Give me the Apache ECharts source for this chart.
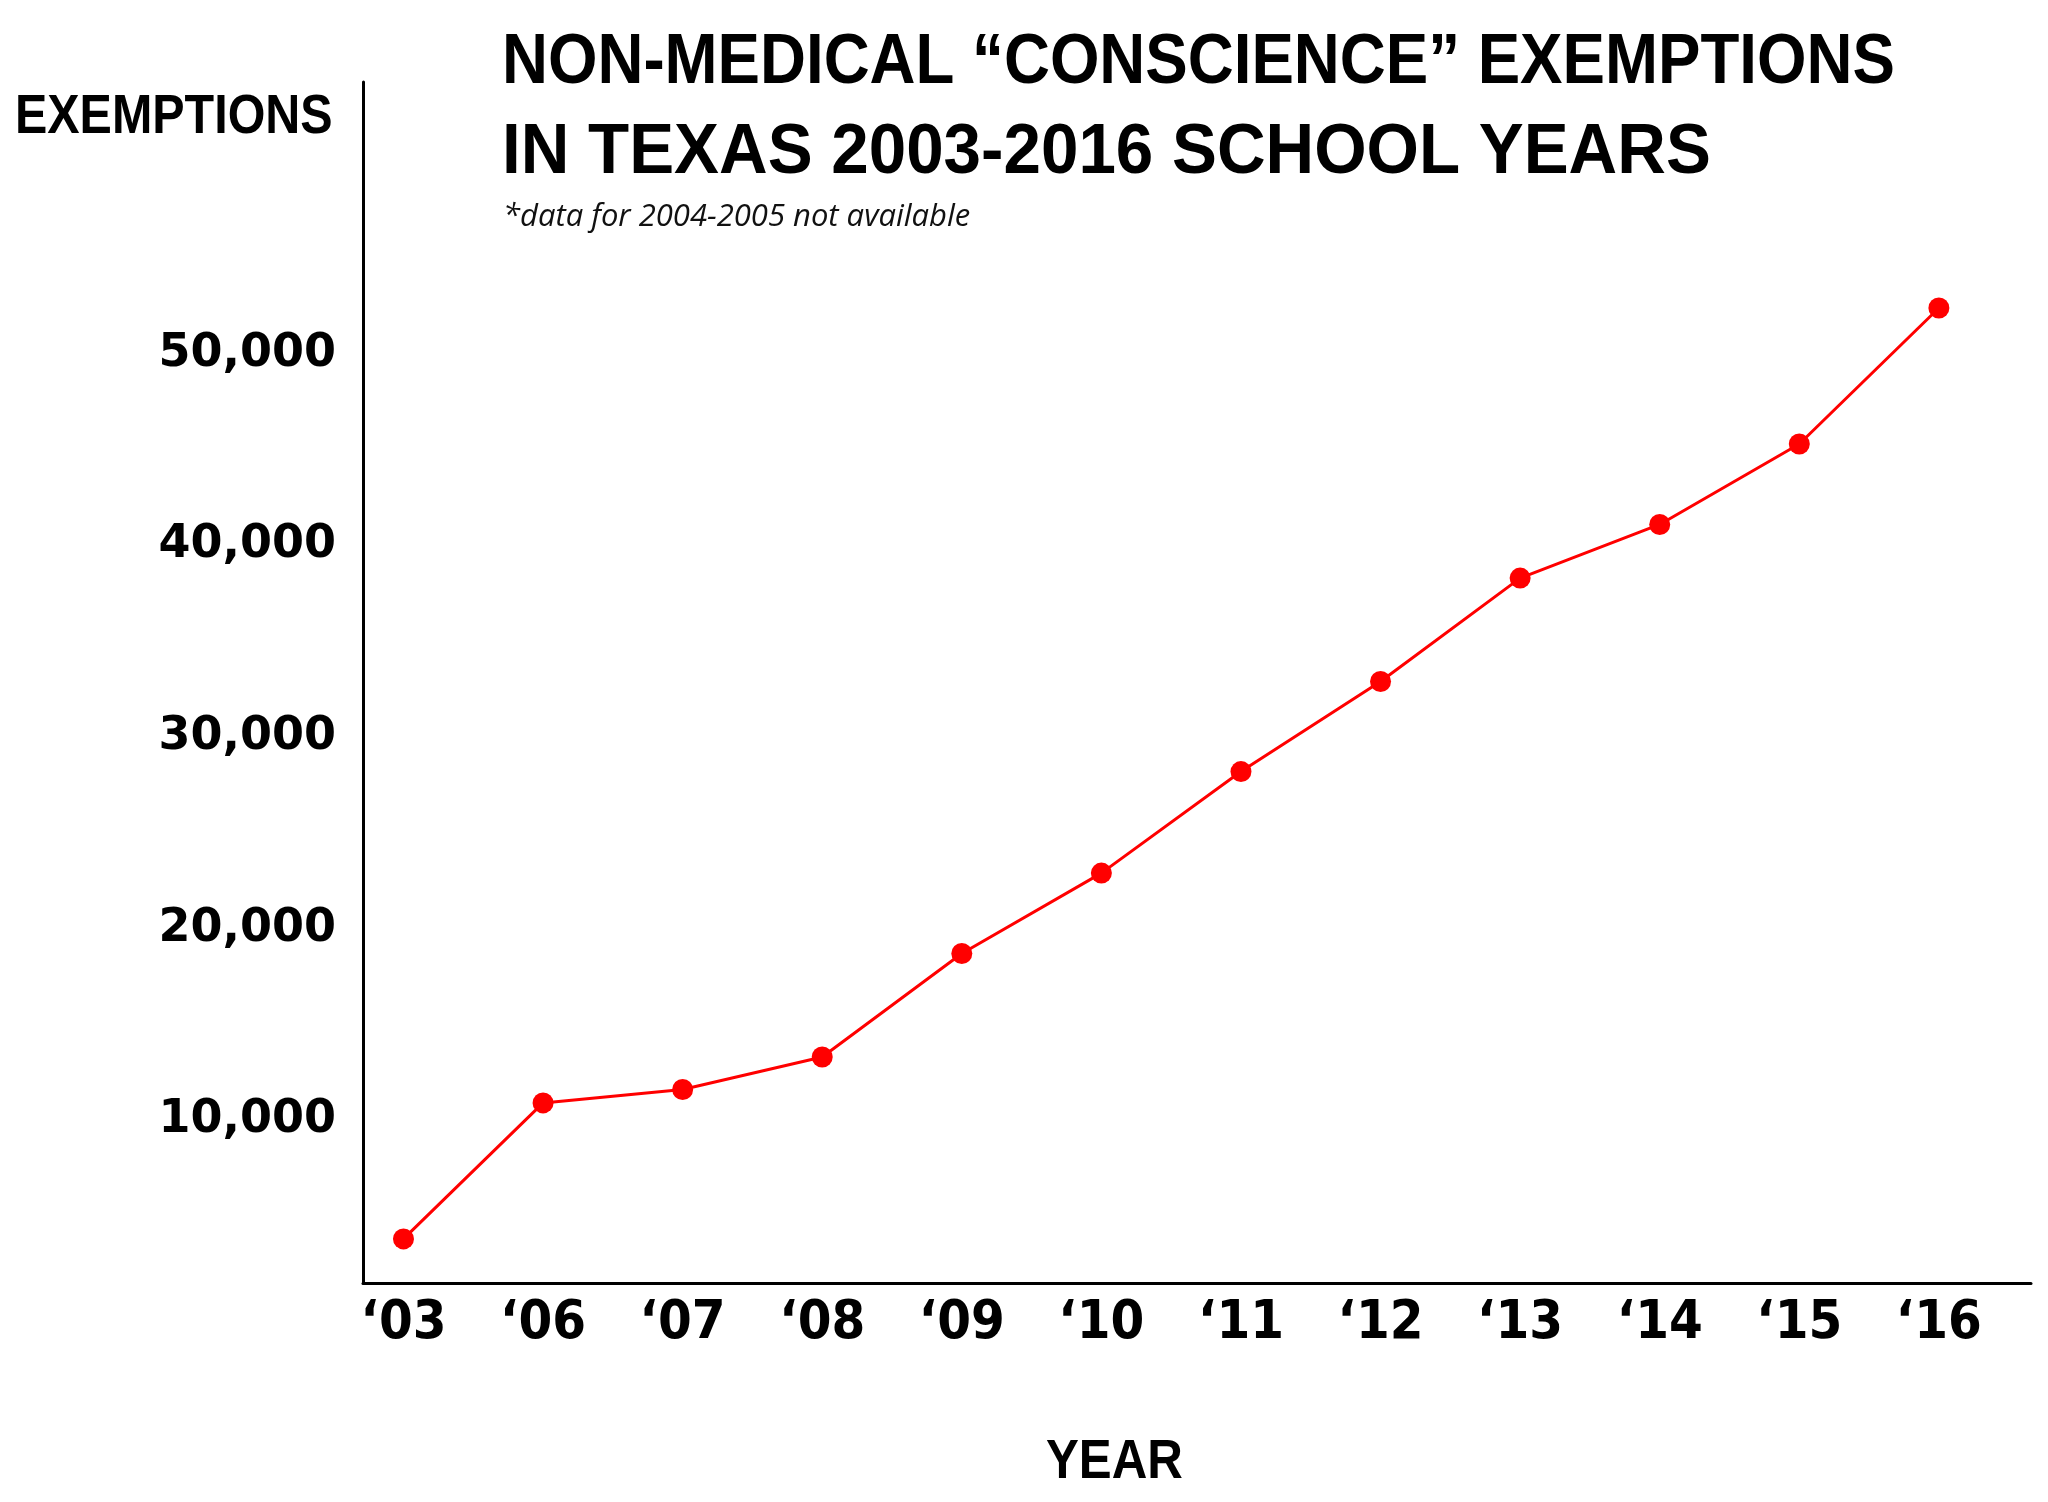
<!DOCTYPE html>
<html>
<head>
<meta charset="utf-8">
<script src="https://cdn.jsdelivr.net/npm/echarts@6/dist/echarts.min.js"></script>
<style>
html,body{margin:0;padding:0;background:#fff;}
#main{width:2048px;height:1502px;}
</style>
</head>
<body>
<div id="main"></div>
<script>
const categories = ["‘03","‘06","‘07","‘08","‘09","‘10","‘11","‘12","‘13","‘14","‘15","‘16"];
const exemptions = [3800,10900,11600,13300,18700,22900,28200,32900,38300,41100,45300,52400];
const yTickValues = [10000,20000,30000,40000,50000];
const titleLine1 = "NON-MEDICAL “CONSCIENCE” EXEMPTIONS";
const titleLine2 = "IN TEXAS 2003-2016 SCHOOL YEARS";
const noteText = "*data for 2004-2005 not available";
const yAxisTitle = "EXEMPTIONS";
const xAxisTitle = "YEAR";

const SANS = '"Liberation Sans",Arial,sans-serif';
const CONDENSED = '"DejaVu Sans Condensed","Liberation Sans Narrow",sans-serif';
const WIDE = '"DejaVu Sans",sans-serif';

const chart = echarts.init(document.getElementById('main'));
chart.setOption({
  backgroundColor: '#ffffff',
  animation: false,
  graphic: [{
    type: 'text', x: 502, y: 18.5, scaleX: 0.909, originX: 0, originY: 0,
    style: {text: titleLine1, font: 'bold 70px ' + SANS, lineHeight: 90, fill: '#000', align: 'left', verticalAlign: 'top'}
  }, {
    type: 'text', x: 502, y: 108.5, scaleX: 0.962, originX: 0, originY: 0,
    style: {text: titleLine2, font: 'bold 70px ' + SANS, lineHeight: 90, fill: '#000', align: 'left', verticalAlign: 'top'}
  }, {
    type: 'text', x: 503, y: 202,
    style: {text: noteText, font: 'italic 31px "Open Sans",sans-serif', fill: '#111', align: 'left', verticalAlign: 'top'}
  }, {
    type: 'text', x: 15, y: 90, scaleX: 0.865, originX: 0, originY: 0,
    style: {text: yAxisTitle, font: 'bold 56px ' + SANS, fill: '#000', align: 'left', verticalAlign: 'top'}
  }, {
    type: 'text', x: 1046, y: 1435, scaleX: 0.88, originX: 0, originY: 0,
    style: {text: xAxisTitle, font: 'bold 56px ' + SANS, fill: '#000', align: 'left', verticalAlign: 'top'}
  }],
  grid: {left: 363, top: 82, right: 17, bottom: 219, containLabel: false},
  xAxis: {
    type: 'value',
    min: -0.29, max: 11.66,
    splitLine: {show: false},
    axisTick: {show: false},
    axisLine: {show: true, onZero: false, lineStyle: {color: '#000', width: 3}},
    axisLabel: {
      customValues: categories.map((c, i) => i),
      formatter: v => categories[Math.round(v)],
      fontFamily: CONDENSED, fontWeight: 'bold', fontSize: 54, color: '#000', margin: 14
    }
  },
  yAxis: {
    type: 'value',
    min: 1500, max: 64200,
    splitLine: {show: false},
    axisTick: {show: false},
    axisLine: {show: true, onZero: false, lineStyle: {color: '#000', width: 3}},
    axisLabel: {
      customValues: yTickValues,
      formatter: v => v.toLocaleString('en-US'),
      fontFamily: WIDE, fontWeight: 'bold', fontSize: 46, color: '#000', margin: 27
    }
  },
  series: [{
    type: 'line',
    data: exemptions.map((v, i) => [i, v]),
    symbol: 'circle', symbolSize: 21,
    lineStyle: {color: '#ff0000', width: 3},
    itemStyle: {color: '#ff0000'},
    z: 3
  }]
});
</script>
</body>
</html>
